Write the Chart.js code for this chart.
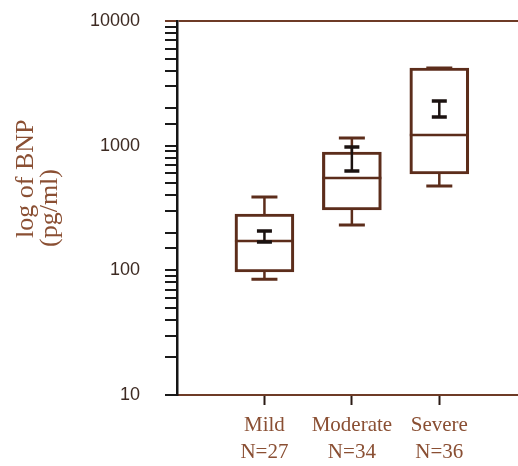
<!DOCTYPE html>
<html>
<head>
<meta charset="utf-8">
<script src="https://cdn.jsdelivr.net/npm/chart.js@4.4.1/dist/chart.umd.min.js"></script>
<style>
  html, body { margin: 0; padding: 0; background: #fff; }
  #wrap { width: 518px; height: 466px; }
</style>
</head>
<body>
<div id="wrap"><canvas id="myChart" width="518" height="466"></canvas></div>
<script>
let groups = ["Mild", "Moderate", "Severe"];
let counts = ["N=27", "N=34", "N=36"];
let xPos = [1, 2, 3];

// box plot values (pg/ml)
let whiskerLow = [85, 231, 475];
let boxLow = [97, 305, 593];
let medians = [172, 550, 1218];
let boxHigh = [283, 889, 4198];
let whiskerHigh = [387, 1152, 4198];

// mean +/- error bar
let meanLow = [169, 626, 1698];
let meanHigh = [207, 976, 2282];

let yTicksMajor = [10, 100, 1000, 10000];

let boxColor = '#5c2d1b';
let axisBrown = '#6e3b26';
let labelBrown = '#8a4f33';

let boxExtras = {
    id: 'boxExtras',
    afterDatasetsDraw(chart) {
        let ctx = chart.ctx;
        let x = chart.scales.x;
        let y = chart.scales.y;
        ctx.save();
        ctx.lineCap = 'butt';
        for (let i = 0; i < xPos.length; i++) {
            let cx = x.getPixelForValue(xPos[i]);
            let bw = 59;
            // whiskers
            ctx.strokeStyle = boxColor;
            ctx.lineWidth = 2.5;
            ctx.beginPath();
            ctx.moveTo(cx, y.getPixelForValue(boxHigh[i]));
            ctx.lineTo(cx, y.getPixelForValue(whiskerHigh[i]));
            ctx.moveTo(cx, y.getPixelForValue(boxLow[i]));
            ctx.lineTo(cx, y.getPixelForValue(whiskerLow[i]));
            ctx.stroke();
            ctx.lineWidth = 3;
            ctx.beginPath();
            ctx.moveTo(cx - 13, y.getPixelForValue(whiskerHigh[i]));
            ctx.lineTo(cx + 13, y.getPixelForValue(whiskerHigh[i]));
            ctx.moveTo(cx - 13, y.getPixelForValue(whiskerLow[i]));
            ctx.lineTo(cx + 13, y.getPixelForValue(whiskerLow[i]));
            ctx.stroke();
            // median
            ctx.lineWidth = 2.5;
            ctx.beginPath();
            ctx.moveTo(cx - bw / 2, y.getPixelForValue(medians[i]));
            ctx.lineTo(cx + bw / 2, y.getPixelForValue(medians[i]));
            ctx.stroke();
            // mean error bar
            ctx.strokeStyle = '#1b1210';
            ctx.lineWidth = 2.5;
            ctx.beginPath();
            ctx.moveTo(cx, y.getPixelForValue(meanLow[i]));
            ctx.lineTo(cx, y.getPixelForValue(meanHigh[i]));
            ctx.stroke();
            ctx.lineWidth = 3.5;
            ctx.beginPath();
            ctx.moveTo(cx - 7.5, y.getPixelForValue(meanLow[i]));
            ctx.lineTo(cx + 7.5, y.getPixelForValue(meanLow[i]));
            ctx.moveTo(cx - 7.5, y.getPixelForValue(meanHigh[i]));
            ctx.lineTo(cx + 7.5, y.getPixelForValue(meanHigh[i]));
            ctx.stroke();
        }
        ctx.restore();
    }
};

let myChart = document.getElementById("myChart").getContext('2d');

let chart1 = new Chart(myChart, {
    type: 'bar',
    data: {
        datasets: [{
            data: xPos.map((v, i) => ({ x: v, y: [boxLow[i], boxHigh[i]] })),
            backgroundColor: 'rgba(255,255,255,0)',
            borderColor: boxColor,
            borderWidth: 2.5,
            borderSkipped: false,
            barThickness: 59
        }]
    },
    options: {
        responsive: false,
        animation: false,
        layout: { padding: { top: 21, right: 0, left: 0, bottom: 0 } },
        plugins: {
            legend: { display: false },
            tooltip: { enabled: false }
        },
        scales: {
            x: {
                type: 'linear',
                min: 0,
                max: 3.9,
                offset: false,
                afterBuildTicks: (scale) => { scale.ticks = xPos.map(v => ({ value: v })); },
                afterFit: (scale) => { scale.height = 71; scale.paddingLeft = 0; scale.paddingRight = 0; },
                border: { color: axisBrown, width: 2 },
                grid: { offset: false, drawOnChartArea: false, tickLength: 10, tickColor: '#2a1a14', tickWidth: 2 },
                ticks: {
                    autoSkip: false,
                    maxRotation: 0,
                    padding: 7,
                    color: labelBrown,
                    font: { family: '"Liberation Serif", "Times New Roman", serif', size: 21, lineHeight: 1.28 },
                    callback: (v) => {
                        let i = xPos.indexOf(v);
                        return i < 0 ? '' : [groups[i], counts[i]];
                    }
                }
            },
            y: {
                type: 'logarithmic',
                min: 10,
                max: 10000,
                afterFit: (scale) => { scale.width = 177; scale.paddingTop = 0; scale.paddingBottom = 0; },
                border: { color: '#151515', width: 2.5 },
                grid: {
                    drawOnChartArea: true,
                    color: (c) => (c.tick && c.tick.value === 10000) ? axisBrown : 'rgba(0,0,0,0)',
                    lineWidth: 2,
                    tickLength: 12,
                    tickWidth: 2,
                    tickColor: (c) => (c.tick && c.tick.value === 10000) ? axisBrown : '#1a1a1a'
                },
                ticks: {
                    autoSkip: false,
                    padding: 25,
                    color: '#3d2a22',
                    font: { family: '"Liberation Sans", Arial, sans-serif', size: 18 },
                    callback: (v) => yTicksMajor.includes(v) ? String(v) : ''
                },
                title: {
                    display: true,
                    text: ['         log of BNP', '(pg/ml)'],
                    color: labelBrown,
                    padding: { top: 14, bottom: 0 },
                    font: { family: '"Liberation Serif", "Times New Roman", serif', size: 26, lineHeight: 0.92 }
                }
            }
        }
    },
    plugins: [boxExtras]
});
</script>
</body>
</html>
